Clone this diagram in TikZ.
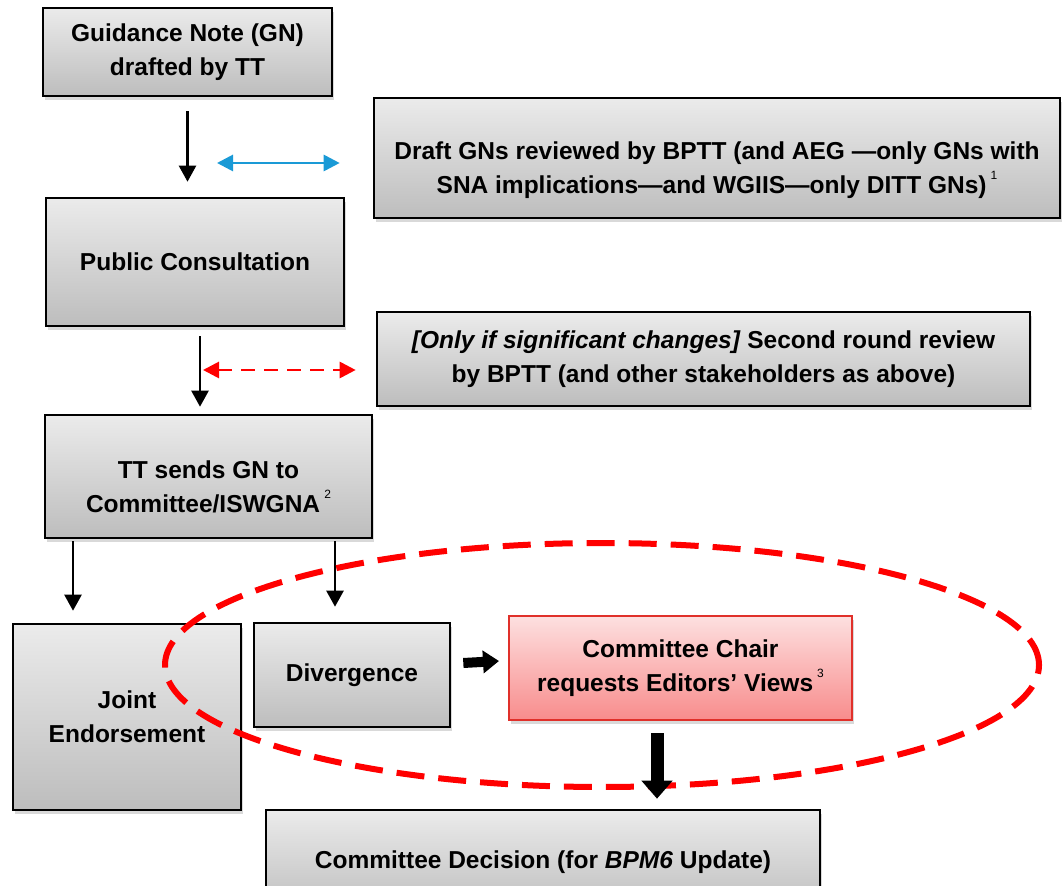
\documentclass[tikz,border=0pt]{standalone}
\usepackage{fontspec}
\setmainfont{Liberation Sans}
\usetikzlibrary{arrows.meta,shadows,calc}
\definecolor{boxtop}{HTML}{EBEBEB}
\definecolor{boxbot}{HTML}{BDBDBD}
\definecolor{redtop}{HTML}{FDE0E0}
\definecolor{redbot}{HTML}{F88C8C}
\definecolor{redline}{HTML}{E0302A}
\definecolor{bluearrow}{HTML}{1A9AD6}
\tikzstyle{boxtext}=[align=center,font=\bfseries\fontsize{12.25}{17}\selectfont]
\tikzstyle{stepbox}=[boxtext,draw=black,line width=1.3pt,top color=boxtop,bottom color=boxbot,
    drop shadow={shadow xshift=1pt,shadow yshift=-2pt,opacity=0.3},inner sep=2pt]
\tikzstyle{chairbox}=[stepbox,draw=redline,line width=1pt,top color=redtop,bottom color=redbot]
\tikzstyle{flow}=[line width=1.2pt,-{Triangle[length=8pt,width=8.5pt]}]
\tikzstyle{bigflow}=[line width=5pt,-{Triangle[length=8pt,width=11pt]}]
\tikzstyle{review}=[line width=1.4pt,{Triangle[length=8pt,width=8pt]}-{Triangle[length=8pt,width=8pt]}]
\newcommand{\fnmark}[1]{\,\raisebox{0.55em}{\fontsize{6}{6}\selectfont\mdseries #1}}

\begin{document}
\begin{tikzpicture}[x=1pt,y=1pt]
\useasboundingbox (0,0) rectangle (531.5,-443);
\clip (0,0) rectangle (531.5,-443);
% left column
\node[stepbox,minimum width=144.5pt,minimum height=44pt] (gn) at (93.75,-26) {Guidance Note (GN)\\drafted by TT};
\node[stepbox,minimum width=149pt,minimum height=64pt] (pc) at (97.5,-131) {Public Consultation};
\node[stepbox,minimum width=163.5pt,minimum height=61.5pt] (tt) at (104.25,-238.25) {};
\node[boxtext] (tttext) at ([yshift=-5pt]tt.center) {TT sends GN to\\Committee/ISWGNA\fnmark{2}};
% review boxes
\node[stepbox,minimum width=343pt,minimum height=60pt] (draft) at (358.5,-79) {};
\node[boxtext] (drafttext) at ([yshift=-6pt]draft.center) {Draft GNs reviewed by BPTT (and AEG —only GNs with\\SNA implications—and WGIIS—only DITT GNs)\fnmark{1}};
\node[stepbox,minimum width=326.5pt,minimum height=47pt] (second) at (351.75,-179.5) {\textit{[Only if significant changes]} Second round review\\by BPTT (and other stakeholders as above)};
% outcome
\node[stepbox,minimum width=114pt,minimum height=93pt] (joint) at (63.5,-358.5) {Joint\\Endorsement};
\node[stepbox,minimum width=98pt,minimum height=52pt] (div) at (176,-337.5) {Divergence};
\node[chairbox,minimum width=171.5pt,minimum height=52pt] (chair) at (340.25,-334) {Committee Chair\\requests Editors’ Views\fnmark{3}};
\node[stepbox,minimum width=277pt,minimum height=52pt] (dec) at (271.5,-431) {Committee Decision (for \textit{BPM6} Update)};

\coordinate (blueend) at (108.5,-81.5);
\coordinate (redend) at (101.5,-185);
\coordinate (jx) at (36.5,0);
\coordinate (dx) at (167.5,0);
\coordinate (decx) at ([xshift=-11.75pt]chair.south);

\draw[flow] ([yshift=-7pt]gn.south) -- ([yshift=7.5pt]gn.south |- pc.north);
\draw[review,bluearrow] (blueend) -- ([xshift=-16.5pt]draft.west |- blueend);
\draw[flow] ([xshift=2.5pt,yshift=-4.5pt]pc.south) -- ([xshift=2.5pt,yshift=3.5pt]pc.south |- tt.north);
\draw[review,red,dash pattern=on 7pt off 4.5pt] (redend) -- ([xshift=-10pt]second.west |- redend);
\draw[flow] ([yshift=-1pt]tt.south -| jx) -- ([yshift=6pt]joint.north -| jx);
\draw[flow] ([yshift=-1pt]tt.south -| dx) -- ([yshift=7.5pt]div.north -| dx);
\draw[bigflow] ([xshift=6pt,yshift=6pt]div.east) -- ([xshift=-4.5pt,yshift=3.5pt]chair.west);

% editors' loop
\draw[red,line width=3pt,dash pattern=on 14pt off 7pt] (301,-332.5) ellipse [x radius=218.5, y radius=61];
\draw[line width=6.5pt,-{Triangle[length=9pt,width=15pt]}] ([yshift=-6pt]decx) -- ([yshift=5pt]decx |- dec.north);
\end{tikzpicture}
\end{document}
